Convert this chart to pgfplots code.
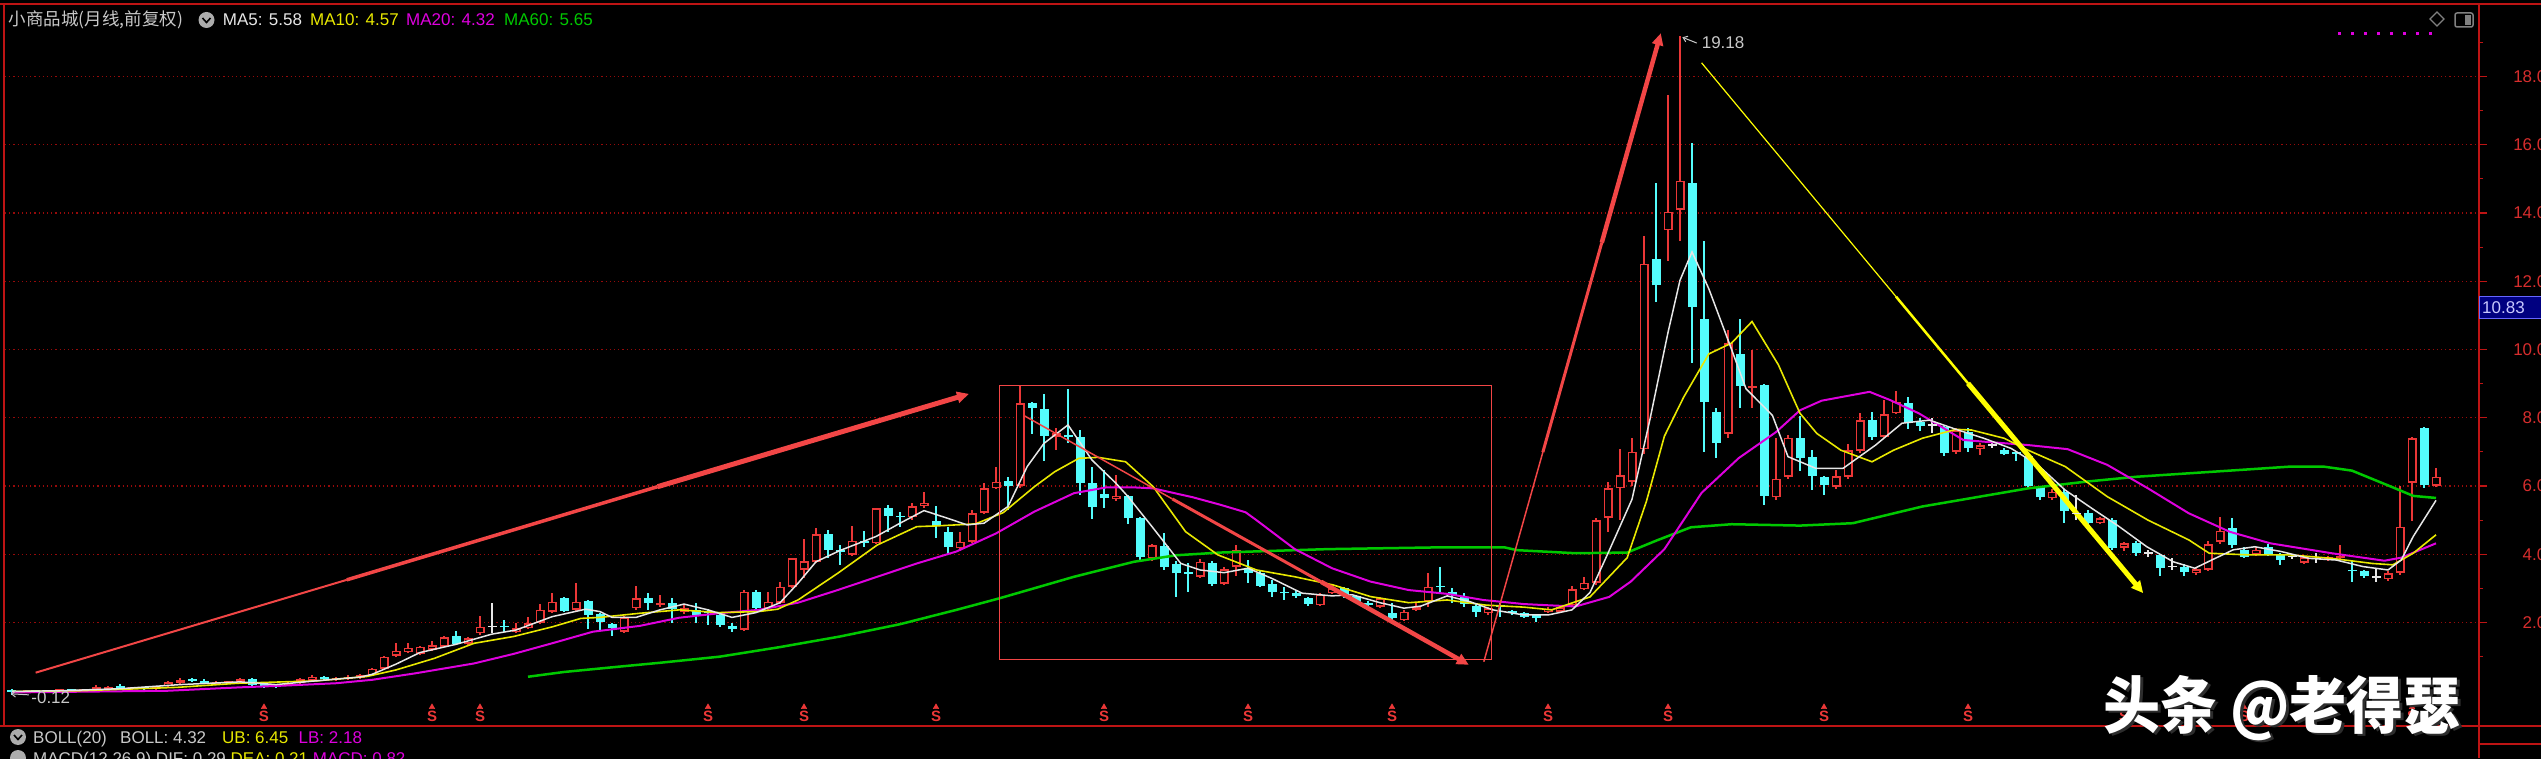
\documentclass[border=0pt]{standalone}
\usepackage{fontspec}
\setmainfont{Liberation Sans}
\newfontfamily\cjk{Noto Sans CJK SC}
\usepackage{graphicx}
\usepackage{pgfplots}
\usepackage{pgfplotstable}
\pgfplotsset{compat=1.18}
\usetikzlibrary{arrows.meta}
\definecolor{cred}{RGB}{235,55,55}
\definecolor{ccyan}{RGB}{84,252,252}
\definecolor{maw}{RGB}{230,230,230}
\definecolor{may}{RGB}{232,232,0}
\definecolor{mam}{RGB}{222,0,222}
\definecolor{mag}{RGB}{0,200,0}
\definecolor{frameC}{RGB}{190,20,20}
\definecolor{gridC}{RGB}{150,10,10}
\definecolor{tickC}{RGB}{215,45,45}
\definecolor{annred}{RGB}{242,70,70}
\definecolor{annyel}{RGB}{255,255,0}
\definecolor{txtg}{RGB}{200,200,200}
\definecolor{navybox}{RGB}{0,0,128}

\pgfplotstableread{
j o h l c
2 -0.04 0.02 -0.06 0.0
4 -0.03 0.03 -0.05 0.01
5 0.01 0.04 -0.02 0.03
7 0.0 0.06 -0.02 0.04
8 0.03 0.17 0.0 0.1
9 0.04 0.14 0.02 0.12
11 0.06 0.12 0.03 0.1
13 0.05 0.15 0.03 0.13
14 0.14 0.28 0.12 0.25
15 0.23 0.36 0.2 0.32
18 0.21 0.28 0.18 0.26
19 0.24 0.3 0.2 0.28
20 0.26 0.38 0.24 0.34
24 0.17 0.25 0.15 0.22
25 0.22 0.37 0.2 0.34
26 0.3 0.45 0.28 0.41
28 0.32 0.4 0.3 0.36
29 0.34 0.46 0.32 0.39
30 0.37 0.48 0.35 0.45
31 0.45 0.66 0.43 0.64
32 0.64 1.02 0.62 1.0
33 1.02 1.41 1.0 1.17
34 1.13 1.39 1.1 1.26
35 1.08 1.31 1.05 1.29
36 1.2 1.47 1.17 1.34
37 1.29 1.6 1.27 1.57
39 1.37 1.58 1.3 1.54
40 1.68 2.19 1.62 1.88
43 1.73 1.98 1.7 1.83
44 1.83 2.17 1.8 1.98
45 2.0 2.54 1.97 2.37
46 2.32 2.87 2.28 2.61
48 2.37 3.15 2.3 2.61
52 1.73 2.18 1.7 2.15
53 2.42 3.07 2.38 2.71
55 2.5 2.8 2.45 2.58
57 2.32 2.5 2.25 2.42
62 1.78 2.95 1.75 2.9
64 2.42 2.9 2.38 2.61
65 2.58 3.2 2.55 3.05
66 3.05 3.9 3.0 3.88
67 3.54 4.44 3.3 3.8
68 3.78 4.76 3.75 4.59
71 3.98 4.83 3.95 4.4
73 4.32 5.37 4.3 5.35
76 5.08 5.5 5.0 5.41
77 5.41 5.83 5.35 5.51
80 4.17 4.66 4.1 4.37
81 4.37 5.3 4.33 5.2
82 5.22 6.1 5.18 5.93
83 5.93 6.55 5.9 6.13
85 6.0 8.96 5.95 8.42
88 7.45 7.69 7.05 7.54
93 5.61 6.32 5.55 5.71
96 3.88 4.3 3.8 4.27
100 3.34 3.85 3.3 3.78
102 3.13 3.62 3.1 3.56
103 3.64 4.27 3.35 4.11
110 2.51 2.85 2.48 2.81
111 2.86 3.1 2.83 3.0
115 2.46 2.75 2.42 2.71
117 2.07 2.36 2.03 2.32
118 2.37 2.56 2.34 2.46
119 2.61 3.46 2.46 3.05
124 2.27 2.45 2.22 2.42
129 2.3 2.45 2.28 2.4
130 2.31 2.5 2.29 2.44
131 2.5 3.07 2.45 2.98
132 2.98 3.33 2.95 3.17
133 3.17 5.05 3.1 5.0
134 5.07 6.12 4.65 5.93
135 5.93 7.07 5.0 6.32
136 6.12 7.4 6.0 7.01
137 7.07 13.33 6.95 12.52
139 13.5 17.47 12.6 14.04
140 14.09 19.18 13.17 14.95
144 7.53 10.57 7.4 10.19
146 8.86 10.0 8.28 8.92
148 5.67 7.4 5.6 6.21
149 6.27 7.5 6.2 7.42
153 5.98 6.47 5.9 6.29
154 6.27 7.23 6.2 7.05
155 7.04 8.13 6.98 7.93
157 7.45 8.52 7.4 8.11
158 8.13 8.78 8.1 8.47
163 7.01 7.7 6.95 7.64
165 7.07 7.25 6.9 7.2
171 5.64 5.9 5.6 5.83
175 4.91 5.1 4.88 5.05
177 4.19 4.36 4.1 4.32
183 3.44 3.6 3.4 3.56
184 3.54 4.4 3.5 4.3
185 4.37 5.1 4.3 4.69
188 3.98 4.2 3.95 4.13
192 3.75 3.95 3.7 3.91
194 3.85 3.95 3.8 3.91
195 3.88 4.27 3.85 3.95
199 3.27 3.5 3.22 3.44
200 3.46 6.0 3.4 4.81
201 6.10 7.45 4.96 7.40
203 6.0 6.54 5.98 6.27
}\upT

\pgfplotstableread{
j o h l c
1 0.02 0.05 -0.12 -0.04
3 0.0 0.02 -0.05 -0.03
6 0.03 0.05 -0.02 0.0
10 0.12 0.2 0.03 0.08
12 0.08 0.1 0.02 0.05
16 0.33 0.38 0.28 0.3
17 0.29 0.33 0.2 0.22
21 0.34 0.37 0.15 0.16
22 0.2 0.22 0.1 0.12
23 0.17 0.19 0.07 0.1
27 0.41 0.44 0.32 0.34
38 1.59 1.75 1.33 1.37
42 1.9 2.06 1.73 1.86
47 2.71 2.75 2.3 2.34
49 2.63 2.66 1.8 2.22
50 2.24 2.27 1.78 2.02
51 1.95 2.0 1.59 1.83
54 2.71 2.86 2.37 2.56
56 2.56 2.71 1.98 2.39
58 2.37 2.56 2.0 2.22
59 2.32 2.39 1.93 2.27
60 2.22 2.32 1.88 1.93
61 1.9 1.98 1.73 1.8
63 2.9 2.95 2.38 2.42
69 4.59 4.71 3.88 4.12
70 4.1 4.27 3.68 4.08
72 4.4 4.69 4.22 4.33
74 5.35 5.44 4.66 5.12
75 5.1 5.25 4.81 5.08
78 4.96 5.4 4.47 4.83
79 4.64 4.81 4.03 4.2
84 6.15 6.27 5.3 6.0
86 8.42 8.47 7.52 8.3
87 8.25 8.7 6.74 7.47
89 7.5 8.83 7.25 7.45
90 7.43 7.64 5.74 6.08
91 6.1 6.57 5.03 5.38
92 5.78 6.47 5.35 5.64
94 5.71 5.75 4.9 5.05
95 5.05 5.1 3.83 3.91
97 4.24 4.63 3.55 3.62
98 3.72 3.8 2.76 3.44
99 3.44 3.74 2.9 3.42
101 3.75 3.8 3.08 3.13
104 3.59 3.83 3.15 3.44
105 3.46 3.5 3.03 3.07
106 3.13 3.25 2.76 2.9
107 2.87 3.05 2.66 2.85
108 2.87 2.95 2.72 2.78
109 2.71 2.75 2.48 2.54
112 3.0 3.05 2.72 2.78
113 2.78 2.82 2.56 2.61
114 2.58 2.62 2.47 2.51
116 2.29 2.56 2.06 2.12
120 3.05 3.63 2.86 3.03
121 2.9 3.0 2.58 2.8
122 2.75 2.86 2.46 2.54
123 2.48 2.55 2.17 2.32
125 2.47 2.56 2.15 2.45
126 2.31 2.37 2.22 2.29
127 2.27 2.3 2.14 2.17
128 2.22 2.25 2.02 2.12
138 12.64 14.89 11.4 11.88
141 14.89 16.06 9.6 11.24
142 10.89 13.17 7.01 8.47
143 8.17 8.3 6.81 7.26
145 9.87 10.9 8.28 8.93
147 8.96 9.0 5.45 5.72
150 7.40 8.05 6.45 6.81
151 6.84 7.05 5.88 6.29
152 6.27 6.3 5.74 6.03
156 7.93 8.18 7.35 7.45
159 8.44 8.6 7.67 7.89
160 7.89 7.98 7.6 7.76
162 7.72 7.75 6.88 6.98
164 7.59 7.7 7.0 7.1
167 7.05 7.1 6.9 6.94
168 6.98 7.0 6.72 6.95
169 6.88 6.95 5.95 6.0
170 5.96 6.0 5.59 5.67
172 5.83 5.9 4.93 5.28
174 5.22 5.3 4.85 4.93
176 5.0 5.05 4.12 4.17
178 4.34 4.38 3.95 4.05
180 3.98 4.0 3.36 3.59
182 3.64 3.7 3.36 3.49
186 4.76 5.05 4.17 4.27
187 4.13 4.2 3.88 3.93
189 4.22 4.3 3.95 4.01
190 3.98 4.05 3.68 3.83
196 3.52 3.83 3.2 3.5
197 3.52 3.55 3.3 3.36
202 7.69 7.74 5.95 6.03
}\dnT

\pgfplotstableread{
j o h l c
41 1.88 2.58 1.68 1.88
161 7.79 7.98 7.54 7.79
166 7.2 7.3 7.1 7.2
173 5.2 5.74 5.0 5.2
179 4.03 4.12 3.93 4.03
181 3.64 3.88 3.54 3.64
191 3.93 4.0 3.85 3.93
193 3.88 4.03 3.73 3.88
198 3.34 3.59 3.2 3.34
}\eqT

\begin{document}
\begin{tikzpicture}
\fill[black] (-4000pt,-4000pt) rectangle (8000pt,4000pt);

\begin{axis}[
  scale only axis,
  width=2474pt, height=722pt,
  xmin=0.4167, xmax=206.583, ymin=-1.033, ymax=20.125,
  clip=false,
  axis line style={draw=none},
  xtick=\empty,
  ytick={2,4,...,18},
  minor ytick={1,3,...,19},
  ytick pos=right, yticklabel pos=right,
  tick align=outside,
  major tick length=8pt, minor tick length=4pt,
  every major tick/.append style={frameC, line width=1.2pt},
  every minor tick/.append style={frameC, line width=1.2pt},
  ymajorgrids,
  major grid style={gridC, line width=1.2pt, dash pattern=on 1.2pt off 3pt},
  yticklabel style={anchor=east, text=tickC, font=\fontsize{17}{17}\selectfont, inner sep=0pt, xshift=69pt},
  y tick label style={/pgf/number format/.cd, fixed, fixed zerofill, precision=2, assume math mode=true},
]
% wicks
\addplot[draw=none, mark=none, error bars/.cd, y dir=both, y explicit, error mark=none,
  error bar style={draw=cred, line width=1.6pt}]
  table[x=j, y=c, y error plus expr={\thisrow{h}-\thisrow{c}}, y error minus expr={\thisrow{c}-\thisrow{l}}] {\upT};
\addplot[draw=none, mark=none, error bars/.cd, y dir=both, y explicit, error mark=none,
  error bar style={draw=ccyan, line width=1.6pt}]
  table[x=j, y=c, y error plus expr={\thisrow{h}-\thisrow{c}}, y error minus expr={\thisrow{c}-\thisrow{l}}] {\dnT};
\addplot[draw=none, mark=none, error bars/.cd, y dir=both, y explicit, error mark=none,
  error bar style={draw=maw, line width=1.6pt}]
  table[x=j, y=c, y error plus expr={\thisrow{h}-\thisrow{c}}, y error minus expr={\thisrow{c}-\thisrow{l}}] {\eqT};
% bodies
\addplot[draw=none, mark=none, error bars/.cd, y dir=plus, y explicit, error mark=none,
  error bar style={draw=cred, line width=9pt}]
  table[x=j, y=o, y error plus expr={max(\thisrow{c}-\thisrow{o},0.045)}] {\upT};
\addplot[draw=none, mark=none, error bars/.cd, y dir=plus, y explicit, error mark=none,
  error bar style={draw=black, line width=6pt}]
  table[x=j, y expr={\thisrow{o}+0.045}, y error plus expr={max(\thisrow{c}-\thisrow{o}-0.09,0)}] {\upT};
\addplot[draw=none, mark=none, error bars/.cd, y dir=plus, y explicit, error mark=none,
  error bar style={draw=ccyan, line width=9pt}]
  table[x=j, y=c, y error plus expr={max(\thisrow{o}-\thisrow{c},0.05)}] {\dnT};
\addplot[only marks, mark=-, mark size=4.5pt, mark options={draw=maw, line width=1.6pt}]
  table[x=j, y=c] {\eqT};

% MA60
\addplot[mag, line width=2.5pt] coordinates {
(44,0.41)(47,0.55)(51.7,0.71)(55,0.82)(60,1.0)(65,1.28)(70,1.59)(75,1.95)(79.7,2.37)(83.3,2.71)(89.5,3.34)(94.5,3.78)(98,3.97)(101.7,4.05)(110.6,4.15)(119.6,4.2)(125.4,4.2)(126.4,4.12)(131.3,4.03)(135.6,4.05)(138.1,4.41)(140.9,4.79)(144.3,4.88)(150,4.84)(154.4,4.91)(160.2,5.4)(169,5.93)(173.9,6.13)(178,6.27)(187.5,6.49)(190.9,6.57)(193.6,6.57)(196,6.45)(199.4,5.96)(201.1,5.71)(203,5.65)};
% MA20
\addplot[mam, line width=2pt] coordinates {
(1,-0.05)(14,0.0)(20,0.1)(23,0.14)(28,0.22)(31,0.32)(34.6,0.51)(39.5,0.8)(42.8,1.08)(46,1.39)(49.4,1.73)(53.3,1.9)(56.6,2.14)(59.9,2.27)(63.2,2.37)(66.5,2.58)(69.8,2.95)(73.1,3.34)(76.4,3.73)(79.7,4.08)(83,4.61)(86.2,5.25)(89.5,5.79)(92.2,5.96)(94.5,5.96)(96.1,5.93)(99.4,5.67)(101.7,5.45)(103.8,5.23)(104.7,5.0)(107.9,4.15)(111,3.59)(114.2,3.2)(117.4,2.95)(120.6,2.84)(123.6,2.66)(127,2.54)(129.3,2.5)(131.3,2.47)(134.1,2.75)(135.9,3.2)(138.7,4.15)(141.8,5.8)(144.9,6.82)(148,7.58)(150,8.22)(151.8,8.5)(155.8,8.76)(157.5,8.52)(159.9,8.13)(163.6,7.35)(165.3,7.3)(169,7.2)(172.3,7.08)(175.6,6.62)(179,5.93)(182.4,5.2)(185.8,4.66)(189.2,4.32)(194.3,4.03)(198.7,3.81)(200.1,3.9)(203,4.32)};
% MA10
\addplot[may, line width=1.6pt] coordinates {
(1,-0.02)(6.6,0.0)(14.8,0.1)(19.8,0.22)(26.4,0.29)(30.6,0.42)(33,0.61)(36.2,0.95)(39.5,1.39)(42.8,1.59)(46.1,1.88)(48.4,2.12)(50,2.15)(53.3,2.27)(56.6,2.37)(59.9,2.29)(63.2,2.32)(64.8,2.39)(66.5,2.66)(69.8,3.44)(73.1,4.27)(76.4,4.81)(78,4.83)(81.3,4.89)(83.6,5.22)(86.2,5.98)(87.9,6.42)(89.9,6.81)(91.5,6.84)(93.8,6.71)(96.1,5.98)(98.8,4.66)(101.5,3.98)(104.7,3.54)(107.9,3.34)(111.1,3.1)(114.2,2.76)(117.4,2.58)(120.6,2.66)(123.8,2.51)(127,2.45)(129.3,2.37)(132.5,2.75)(135.6,3.9)(137.2,5.55)(138.7,7.46)(140.3,8.6)(142.4,9.87)(144.3,10.19)(146,10.82)(148.2,9.55)(149.4,8.6)(150,8.13)(151.4,7.54)(153.4,7.05)(156,6.71)(157.8,7.05)(160.2,7.4)(163,7.66)(164.3,7.64)(167,7.4)(169,7.05)(172.1,6.57)(175.6,5.69)(179,5.0)(182.4,4.42)(184.1,4.03)(187.5,3.98)(190.9,3.98)(194.3,3.88)(197.7,3.73)(199.4,3.69)(201.1,4.03)(203,4.57)};
% MA5
\addplot[maw, line width=1.5pt] coordinates {
(1,-0.02)(5,0.0)(10,0.06)(15,0.18)(20,0.26)(23,0.18)(26,0.28)(30,0.4)(31,0.48)(33,0.78)(35,1.12)(38,1.36)(41,1.66)(43,1.78)(46,2.17)(48.8,2.39)(50,2.32)(51,2.15)(53,2.15)(55,2.37)(57,2.54)(59,2.37)(61,2.15)(63,2.29)(65,2.58)(66.5,3.15)(68,3.78)(70,4.11)(73,4.52)(75,4.91)(77,5.28)(79,5.05)(80.6,4.86)(82,4.91)(84,5.4)(85.6,6.57)(87,7.25)(89,7.79)(91,6.76)(93,6.08)(94,5.69)(96,4.81)(98.4,3.73)(100,3.54)(102,3.46)(104,3.59)(106,3.29)(108.5,2.86)(111,2.78)(112.7,2.81)(115,2.58)(117,2.42)(118.4,2.48)(120.6,2.78)(122.5,2.61)(124.4,2.37)(127,2.22)(129,2.22)(131,2.37)(132.5,2.88)(134,4.03)(136,5.61)(137.5,7.96)(139,10.5)(140,12.03)(141,12.86)(142.4,11.78)(144.3,10.0)(145.5,8.85)(147.7,8.07)(149,6.86)(151.3,6.52)(153.6,6.52)(156.3,7.2)(158.5,7.84)(160.8,7.93)(163,7.66)(165.3,7.4)(167.6,7.1)(169.8,6.62)(172.1,5.88)(174.3,5.35)(176.6,4.81)(178.9,4.22)(181.1,3.78)(182.9,3.59)(184.3,3.83)(186.1,4.13)(187.9,4.22)(190.1,4.08)(192.4,3.88)(194.7,3.83)(196.9,3.64)(199,3.54)(200.1,3.83)(201.1,4.52)(203,5.58)};

% annotations
\addplot[annred, line width=1.5pt, mark=none] coordinates {(83.3,0.91)(124.3,0.91)(124.3,8.95)(83.3,8.95)(83.3,0.91)};
\addplot[annred, line width=2pt] coordinates {(2.97,0.53)(28.9,3.25)};
\addplot[annred, line width=3.5pt] coordinates {(28.9,3.25)(54.8,5.98)};
\addplot[annred, line width=5pt, -{Triangle[length=12pt,width=11pt]}] coordinates {(54.8,5.98)(80.75,8.70)};
\addplot[annred, line width=1.5pt] coordinates {(85.4,8.05)(97.7,5.62)};
\addplot[annred, line width=3pt] coordinates {(97.7,5.62)(110.1,3.19)};
\addplot[annred, line width=4.5pt, -{Triangle[length=12pt,width=11pt]}] coordinates {(110.1,3.19)(122.4,0.76)};
\addplot[annred, line width=1.5pt] coordinates {(123.65,0.85)(128.57,6.99)};
\addplot[annred, line width=3pt] coordinates {(128.57,6.99)(133.48,13.13)};
\addplot[annred, line width=4.5pt, -{Triangle[length=12pt,width=11pt]}] coordinates {(133.48,13.13)(138.4,19.27)};
\addplot[annyel, line width=1.2pt] coordinates {(141.8,18.4)(158,11.55)};
\addplot[annyel, line width=2.5pt] coordinates {(158,11.55)(164,9.01)};
\addplot[annyel, line width=5pt, -{Triangle[length=12pt,width=11pt]}] coordinates {(164,9.01)(178.6,2.86)};
% peak / low labels
\addplot[txtg, line width=1pt, -{Straight Barb[length=4pt,width=6pt]}] coordinates {(141.4,18.98)(140.2,19.15)};
\node[anchor=west, inner sep=0pt, text=txtg, font=\fontsize{17}{17}\selectfont] at (axis cs:141.8,18.98) {19.18};
\addplot[txtg, line width=1pt, -{Straight Barb[length=4pt,width=6pt]}] coordinates {(2.4,-0.12)(0.9,-0.09)};
\node[anchor=west, inner sep=0pt, text=txtg, font=\fontsize{17}{17}\selectfont] at (axis cs:2.6,-0.21) {-0.12};
% S signals
\addplot[only marks, mark=triangle*, mark size=3.2pt, color=cred, mark options={fill=cred, draw=cred},
  nodes near coords={S},
  every node near coord/.append style={anchor=north, yshift=-3.5pt, inner sep=0pt, text=cred, font=\bfseries\fontsize{15}{15}\selectfont}]
  coordinates {
(22,-0.476)(36,-0.476)(40,-0.476)(59,-0.476)(67,-0.476)(78,-0.476)(92,-0.476)(104,-0.476)(116,-0.476)(129,-0.476)(139,-0.476)(152,-0.476)(164,-0.476)(177,-0.476)(187,-0.476)(201,-0.476)};
\coordinate (O) at (rel axis cs:0,0);
\end{axis}

\begin{scope}[x=1pt, y=1pt, shift={(O)}, shift={(-5,-32)}]
\pgfresetboundingbox
\useasboundingbox (0,0) rectangle (2541,758);
% frame lines
\draw[frameC, line width=2pt] (0,754) -- (2541,754);
\draw[frameC, line width=2pt] (4,32) -- (4,754);
\draw[frameC, line width=2pt] (2479,0) -- (2479,754);
\draw[frameC, line width=2.5pt] (0,32) -- (2541,32);
\draw[frameC, line width=2pt] (2479,14) -- (2541,14);

% title row
\node[anchor=base west, inner sep=0pt, text=txtg, font=\cjk\fontsize{17.5}{17.5}\selectfont] at (8.6,732) {小商品城(月线,前复权)};
\fill[gray!65] (206.5,738) circle (8);
\draw[black, line width=1.6pt] (202.5,740) -- (206.5,735.5) -- (210.5,740);
\node[anchor=base west, inner sep=0pt, text=maw, font=\fontsize{17}{17}\selectfont] at (222.7,732) {MA5: 5.58};
\node[anchor=base west, inner sep=0pt, text=may, font=\fontsize{17}{17}\selectfont] at (310,732) {MA10: 4.57};
\node[anchor=base west, inner sep=0pt, text=mam, font=\fontsize{17}{17}\selectfont] at (406,732) {MA20: 4.32};
\node[anchor=base west, inner sep=0pt, text=mag, font=\fontsize{17}{17}\selectfont] at (504,732) {MA60: 5.65};

% top right icons
\draw[mam, line width=3pt, dash pattern=on 3pt off 10pt] (2338,724) -- (2440,724);
\draw[gray, line width=1.3pt] (2437,746) -- (2444,739) -- (2437,732) -- (2430,739) -- cycle;
\draw[gray, line width=1.5pt, rounded corners=2pt] (2455,731) rectangle (2473,745);
\fill[gray] (2465,733) rectangle (2471,743);

% value box
\fill[navybox] (2479,439) rectangle (2541,461);
\draw[blue!60!white, line width=1pt] (2479.5,439) rectangle (2541,461);
\node[anchor=base west, inner sep=0pt, text={rgb,255:red,200;green,200;blue,255}, font=\fontsize{17}{17}\selectfont] at (2482,444) {10.83};

% bottom rows
\fill[gray!65] (18,21) circle (8);
\draw[black, line width=1.6pt] (14,23) -- (18,18.5) -- (22,23);
\node[anchor=base west, inner sep=0pt, text=txtg, font=\fontsize{17}{17}\selectfont] at (33,15) {BOLL(20)};
\node[anchor=base west, inner sep=0pt, text=txtg, font=\fontsize{17}{17}\selectfont] at (120,15) {BOLL: 4.32};
\node[anchor=base west, inner sep=0pt, text=may, font=\fontsize{17}{17}\selectfont] at (222,15) {UB: 6.45};
\node[anchor=base west, inner sep=0pt, text=mam, font=\fontsize{17}{17}\selectfont] at (298.5,15) {LB: 2.18};
\fill[gray!65] (18,0) circle (8);
\node[anchor=base west, inner sep=0pt, text=txtg, font=\fontsize{17}{17}\selectfont] at (33,-6) {MACD(12,26,9) DIF: 0.29 \textcolor{may}{DEA: 0.21} \textcolor{mam}{MACD: 0.82}};

% watermark
\node[anchor=west, inner sep=0pt, text={rgb,255:red,45;green,45;blue,45}, font=\cjk\bfseries\fontsize{62}{62}\selectfont] at (2106,48) {\scalebox{0.92}[1]{头条 @老得瑟}};
\node[anchor=west, inner sep=0pt, text=white, font=\cjk\bfseries\fontsize{62}{62}\selectfont] at (2103,50) {\scalebox{0.92}[1]{头条 @老得瑟}};
\end{scope}
\end{tikzpicture}
\end{document}
